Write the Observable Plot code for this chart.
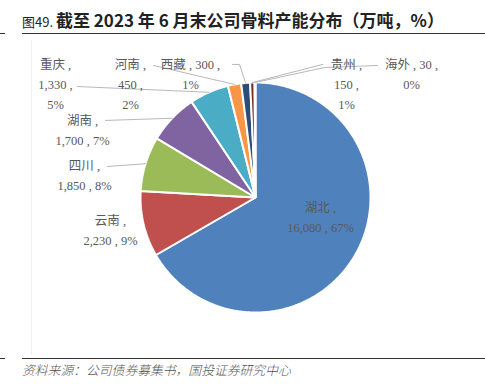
<!DOCTYPE html>
<html>
<head>
<meta charset="utf-8">
<script src="https://cdn.jsdelivr.net/npm/d3@7"></script>
<script src="https://cdn.jsdelivr.net/npm/@observablehq/plot@0.6"></script>
<style>
  html, body { margin: 0; padding: 0; background: #fff; }
  body { width: 485px; height: 390px; position: relative; overflow: hidden; font-family: "Noto Sans CJK SC", "Noto Sans", sans-serif; }
  #title { position: absolute; left: 22px; right: 0; top: 7px; height: 26px; border-bottom: 1.5px solid #333; white-space: nowrap; color: #222; }
  #title .num { font-size: 13px; font-weight: 400; }
  #title .txt { font-size: 17px; font-weight: 700; }
  .tick { position: absolute; left: 0; width: 5px; border-top: 1.5px solid #333; }
  #vline { position: absolute; left: 31px; top: 40px; height: 315px; border-left: 1px solid #f0f0f0; }
  #chart { position: absolute; left: 0; top: 36px; }
  #foot { position: absolute; left: 22px; right: 0; top: 358px; border-top: 1.5px solid #333; padding-top: 1px; font-size: 12.8px; font-style: italic; font-weight: 300; color: #555; white-space: nowrap; }
</style>
</head>
<body>
<div class="tick" style="top:33px"></div>
<div id="title"><span class="num">图49. </span><span class="txt">截至 2023 年 6 月末公司骨料产能分布（万吨，%）</span></div>
<div id="vline"></div>
<div id="chart"></div>
<div class="tick" style="top:358px"></div>
<div id="foot">资料来源：公司债券募集书，国投证券研究中心</div>
<script>
// ---- data ----
const categories = ["湖北", "云南", "四川", "湖南", "重庆", "河南", "西藏", "贵州", "海外"];
const values = [16080, 2230, 1850, 1700, 1330, 450, 300, 150, 30];
const pctLabels = ["67%", "9%", "8%", "7%", "5%", "2%", "1%", "1%", "0%"];
const colors = ["#4F81BD", "#C0504D", "#9BBB59", "#8064A2", "#4BACC6", "#F79646", "#2C4D75", "#772C2A", "#5F7530"];

// ---- label layout (in pie-radius units, centre = 0,0) ----
const labelLayout = {
  "湖北": {pos: [0.565, -0.157], lines: 2},
  "云南": {pos: [-1.261, -0.27], lines: 2},
  "四川": {pos: [-1.487, 0.209], lines: 2, leader: [[-1.287, 0.27]]},
  "湖南": {pos: [-1.504, 0.6], lines: 2, leader: [[-1.304, 0.67]]},
  "重庆": {pos: [-1.739, 1.0], lines: 3, leader: [[-1.548, 0.965]]},
  "河南": {pos: [-1.087, 1.0], lines: 3, leader: [[-0.887, 1.148]]},
  "西藏": {pos: [-0.565, 1.087], lines: 2, leader: [[-0.2, 1.157], [-0.139, 1.157]]},
  "贵州": {pos: [0.791, 1.0], lines: 3, leader: [[0.583, 1.157]]},
  "海外": {pos: [1.357, 1.087], lines: 2, leader: [[1.061, 1.148], [0.6, 1.13]]}
};

const fmt = d3.format(",");
const pie = d3.pie().sort(null).value(d => d)(values);

const marks = [];
// slices
pie.forEach((p, i) => {
  const pts = [{x: 0, y: 0}];
  const n = Math.max(2, Math.ceil((p.endAngle - p.startAngle) / 0.01));
  for (let k = 0; k <= n; k++) {
    const a = p.startAngle + (p.endAngle - p.startAngle) * k / n;
    pts.push({x: Math.sin(a), y: Math.cos(a)});
  }
  marks.push(Plot.line(pts, {x: "x", y: "y", fill: colors[i], stroke: "white", strokeWidth: 2, curve: "linear-closed", strokeLinejoin: "miter"}));
});

// labels and leaders
const labelRows = [];
const leaderRows = [];
categories.forEach((c, i) => {
  const L = labelLayout[c];
  const v = fmt(values[i]);
  let text;
  if (L.lines === 3) text = `${c} ,\n${v} ,\n${pctLabels[i]}`;
  else if (c === "西藏" || c === "海外") text = `${c} , ${v} ,\n${pctLabels[i]}`;
  else text = `${c} ,\n${v} , ${pctLabels[i]}`;
  labelRows.push({x: L.pos[0], y: L.pos[1], text});
  if (L.leader) {
    const mid = (pie[i].startAngle + pie[i].endAngle) / 2;
    const path = [...L.leader, [Math.sin(mid), Math.cos(mid)]];
    path.forEach(([x, y]) => leaderRows.push({x, y, z: c}));
  }
});

marks.push(Plot.line(leaderRows, {x: "x", y: "y", z: "z", stroke: "#a6a6a6", strokeWidth: 0.8}));
marks.push(Plot.text(labelRows, {
  x: "x", y: "y", text: "text", fill: "#595959", fontSize: 12.5,
  lineHeight: 1.6, fontFamily: "'Liberation Serif', 'Noto Sans CJK SC', serif"
}));

const chart = Plot.plot({
  width: 485,
  height: 318,
  marginLeft: 140,
  marginRight: 115,
  marginTop: 46,
  marginBottom: 42,
  x: {domain: [-1, 1], axis: null},
  y: {domain: [-1, 1], axis: null},
  style: {background: "transparent", overflow: "visible"},
  marks
});
document.getElementById("chart").appendChild(chart);
</script>
</body>
</html>
